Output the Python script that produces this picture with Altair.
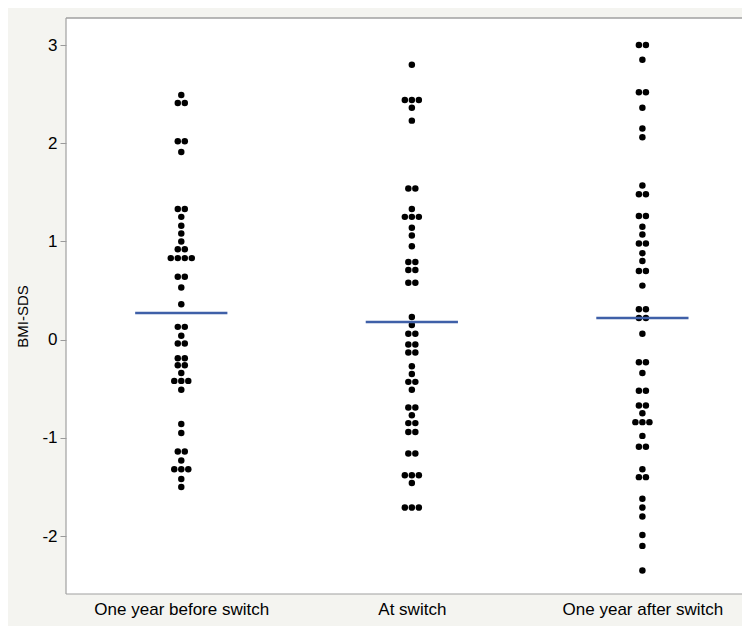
import altair as alt
import pandas as pd

groups = ["One year before switch", "At switch", "One year after switch"]

before = [2.49, 2.41, 2.41, 2.02, 2.02, 1.91, 1.33, 1.33, 1.25, 1.16, 1.08, 1.00,
          0.92, 0.92, 0.83, 0.83, 0.83, 0.83, 0.64, 0.64, 0.53, 0.36, 0.13, 0.13,
          0.04, -0.04, -0.04, -0.19, -0.19, -0.26, -0.26, -0.34, -0.42, -0.42, -0.42,
          -0.51, -0.86, -0.95, -1.14, -1.14, -1.23, -1.32, -1.32, -1.32, -1.42, -1.50]

at_switch = [2.80, 2.44, 2.44, 2.44, 2.36, 2.23, 1.54, 1.54, 1.33, 1.25, 1.25, 1.25,
             1.14, 1.06, 0.95, 0.79, 0.79, 0.71, 0.71, 0.58, 0.58, 0.23, 0.15, 0.06,
             0.06, -0.05, -0.05, -0.13, -0.13, -0.27, -0.35, -0.43, -0.43, -0.51,
             -0.69, -0.69, -0.77, -0.85, -0.85, -0.94, -0.94, -1.16, -1.16, -1.38,
             -1.38, -1.38, -1.46, -1.71, -1.71, -1.71]

after = [3.00, 3.00, 2.85, 2.52, 2.52, 2.36, 2.15, 2.06, 1.57, 1.48, 1.48, 1.26,
         1.26, 1.15, 1.07, 0.98, 0.98, 0.88, 0.80, 0.70, 0.70, 0.55, 0.31, 0.31,
         0.22, 0.22, 0.06, -0.23, -0.23, -0.34, -0.52, -0.52, -0.67, -0.67, -0.75,
         -0.84, -0.84, -0.84, -0.98, -1.09, -1.09, -1.32, -1.40, -1.40, -1.62,
         -1.71, -1.80, -1.99, -2.10, -2.35]

means = [0.27, 0.18, 0.22]

rows = []
for i, vals in enumerate([before, at_switch, after]):
    for v in vals:
        rows.append({"idx": i, "bmi": v})
dots = pd.DataFrame(rows)
mean_df = pd.DataFrame({"idx": [0, 1, 2], "mean": means})

label_expr = "[" + ",".join("'" + g + "'" for g in groups) + "][datum.value]"

W, H = 676, 576

x_scale = alt.Scale(domain=[-0.5, 2.432], nice=False, zero=False)
x_axis = alt.Axis(values=[0, 1, 2], labelExpr=label_expr, ticks=False, domain=False,
                  grid=False, title=None, labelFontSize=17, labelColor="black",
                  labelPadding=7, labelFlush=False, labelFont="Liberation Sans")
y_scale = alt.Scale(domain=[-2.59, 3.275], nice=False, zero=False)
y_axis = alt.Axis(values=[-2, -1, 0, 1, 2, 3], labelExpr="'' + datum.value",
                  tickColor="#9a9a9a", tickSize=6, domain=False, grid=False,
                  labelFontSize=17, labelColor="black", labelPadding=3,
                  labelFont="Liberation Sans",
                  title="BMI-SDS", titleFontSize=15, titleFontWeight="normal",
                  titleColor="black", titleFont="Liberation Sans",
                  titleX=-44, titleY=298, titleBaseline="middle", titleAlign="center")

STEP = 0.0304

points = alt.Chart(dots).transform_window(
    rn="row_number()", groupby=["idx", "bmi"]
).transform_joinaggregate(
    cnt="count()", groupby=["idx", "bmi"]
).transform_calculate(
    xpos=f"datum.idx + (datum.rn - (datum.cnt + 1) / 2) * {STEP}"
).mark_circle(size=42, color="black", opacity=1).encode(
    x=alt.X("xpos:Q", scale=x_scale, axis=x_axis),
    y=alt.Y("bmi:Q", scale=y_scale, axis=y_axis),
)

mean_rules = alt.Chart(mean_df).transform_calculate(
    x1="datum.idx - 0.2", x2="datum.idx + 0.2"
).mark_rule(color="#3f60a8", strokeWidth=2.5).encode(
    x=alt.X("x1:Q", scale=x_scale, axis=x_axis),
    x2="x2:Q",
    y=alt.Y("mean:Q", scale=y_scale, axis=y_axis),
)

frame_color = "#a0a0a0"
top_border = alt.Chart().mark_rule(color=frame_color, strokeWidth=1.5).encode(
    x=alt.value(0), x2=alt.value(W + 20), y=alt.value(0))
bottom_border = alt.Chart().mark_rule(color=frame_color, strokeWidth=1.2).encode(
    x=alt.value(0), x2=alt.value(W + 20), y=alt.value(H))
left_border = alt.Chart().mark_rule(color=frame_color, strokeWidth=1.2).encode(
    x=alt.value(0), y=alt.value(0), y2=alt.value(H))

chart = alt.layer(points, mean_rules, top_border, bottom_border, left_border).properties(
    width=W, height=H,
    autosize=alt.AutoSizeParams(type="none"),
    padding={"left": 58, "top": 10, "right": 0, "bottom": 32},
    background="#f4f4f0",
).configure_view(stroke=None, fill="white", clip=False)

chart.save("out.html", embed_options={"renderer": "svg", "actions": False})
